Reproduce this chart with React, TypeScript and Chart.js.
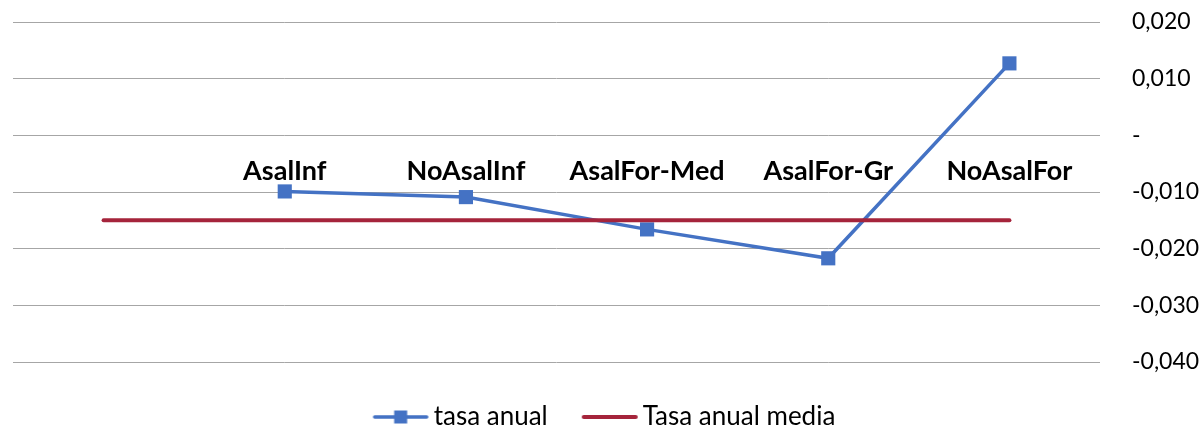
import { useEffect, useRef } from "react";
import { Chart, registerables } from "chart.js";

Chart.register(...registerables);

const categories = ["", "AsalInf", "NoAsalInf", "AsalFor-Med", "AsalFor-Gr", "NoAsalFor"];
const tasaAnual = [null, -0.0099, -0.0109, -0.0166, -0.0217, 0.0127];
const tasaAnualMedia = [-0.015, -0.015, -0.015, -0.015, -0.015, -0.015];
const yTickValues = [0.02, 0.01, 0, -0.01, -0.02, -0.03, -0.04];
const seriesNames = ["tasa anual", "Tasa anual media"];

const BLUE = "#4472C4";
const RED = "#A5243B";
const FONT = "Lato";

function makeLegendIcon(color: string, marker: boolean) {
  const c = document.createElement("canvas");
  c.width = 58;
  c.height = 16;
  const ctx = c.getContext("2d")!;
  ctx.strokeStyle = color;
  ctx.lineWidth = marker ? 3.5 : 4;
  ctx.lineCap = "round";
  ctx.beginPath();
  ctx.moveTo(3, 8);
  ctx.lineTo(55, 8);
  ctx.stroke();
  if (marker) {
    ctx.fillStyle = color;
    ctx.fillRect(29 - 6.5, 8 - 6.5, 13, 13);
  }
  return c;
}

function formatTick(v: number) {
  if (Math.abs(v) < 1e-9) return "-";
  return v.toFixed(3).replace(".", ",");
}

export default function App() {
  const ref = useRef<HTMLCanvasElement | null>(null);
  useEffect(() => {
    if (!ref.current) return;
    const icons = [makeLegendIcon(BLUE, true), makeLegendIcon(RED, false)];
    const chart = new Chart(ref.current, {
      type: "line",
      data: {
        labels: categories,
        datasets: [
          {
            label: seriesNames[0],
            data: tasaAnual,
            borderColor: BLUE,
            backgroundColor: BLUE,
            borderWidth: 3.5,
            pointStyle: "rect",
            pointRadius: 10,
            pointBackgroundColor: BLUE,
            pointBorderWidth: 0,
            order: 2,
          },
          {
            label: seriesNames[1],
            data: tasaAnualMedia,
            borderColor: RED,
            backgroundColor: RED,
            borderWidth: 4,
            borderCapStyle: "round",
            pointRadius: 0,
            order: 1,
          },
        ],
      },
      options: {
        animation: false,
        responsive: false,
        layout: { padding: { left: 13, top: 22, right: 0, bottom: 0 } },
        plugins: {
          tooltip: { enabled: false },
          legend: {
            position: "bottom",
            maxHeight: 67,
            labels: {
              usePointStyle: true,
              pointStyleWidth: 40,
              padding: 42,
              color: "#000",
              font: { family: FONT, size: 26 },
              generateLabels: (ch: any) =>
                ch.data.datasets.map((ds: any, i: number) => ({
                  text: ds.label,
                  pointStyle: icons[i],
                  fillStyle: "transparent",
                  strokeStyle: "transparent",
                  lineWidth: 0,
                  hidden: false,
                  datasetIndex: i,
                  fontColor: "#000",
                })),
            },
          },
        },
        scales: {
          x: {
            type: "category",
            offset: true,
            position: { y: 0 } as any,
            grid: { display: false },
            border: { display: false },
            ticks: {
              color: "#000",
              font: { family: FONT, size: 27, weight: "bold" },
              padding: 12,
              maxRotation: 0,
              autoSkip: false,
            },
            afterFit: (s: any) => {
              s.height = 0;
            },
          },
          y: {
            position: "right",
            min: -0.04,
            max: 0.02,
            grid: {
              color: "#a6a6a6",
              lineWidth: 1,
              drawTicks: true,
              tickLength: 32,
              tickColor: "rgba(0,0,0,0)",
            },
            border: { display: false },
            afterBuildTicks: (s: any) => {
              s.ticks = yTickValues.map((v) => ({ value: v }));
            },
            ticks: {
              color: "#000",
              font: { family: FONT, size: 23 },
              padding: 0,
              callback: (v: any) => formatTick(Number(v)),
            },
            afterFit: (s: any) => {
              s.width = 103;
            },
          },
        },
      },
    });
    return () => chart.destroy();
  }, []);
  return (
    <div style={{ position: "absolute", left: 0, top: 0, width: 1203, height: 429 }}>
      <canvas ref={ref} width={1203} height={429} style={{ display: "block" }} />
    </div>
  );
}
